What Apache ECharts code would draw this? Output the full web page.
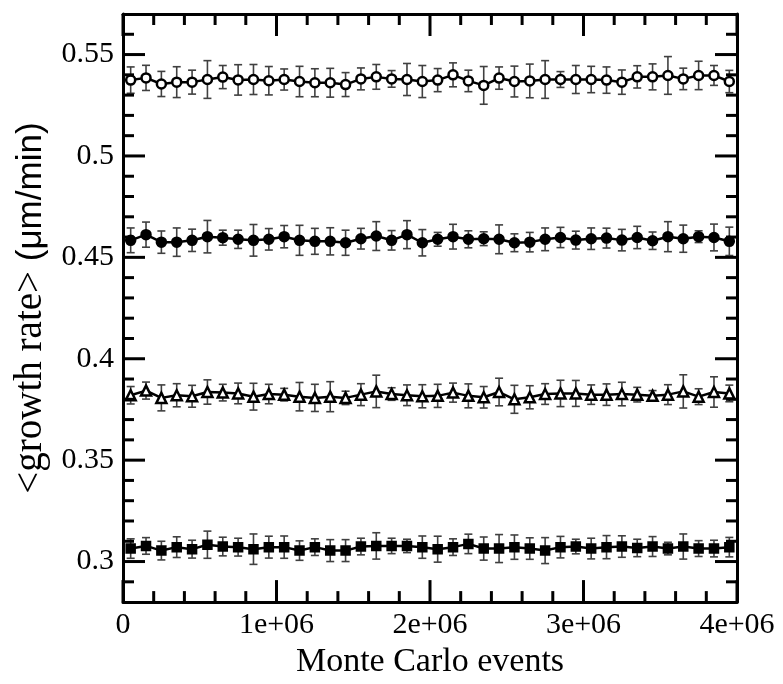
<!DOCTYPE html>
<html>
<head>
<meta charset="utf-8">
<script src="https://cdn.jsdelivr.net/npm/echarts@6/dist/echarts.min.js"></script>
<style>html,body{margin:0;padding:0;background:#fff;}#c{width:783px;height:684px;}</style>
</head>
<body>
<div id="c"></div>
<script>
var events = [50000,150000,250000,350000,450000,550000,650000,750000,850000,950000,
  1050000,1150000,1250000,1350000,1450000,1550000,1650000,1750000,1850000,1950000,
  2050000,2150000,2250000,2350000,2450000,2550000,2650000,2750000,2850000,2950000,
  3050000,3150000,3250000,3350000,3450000,3550000,3650000,3750000,3850000,3950000];

var openCircle = [0.5374,0.5385,0.5355,0.5364,0.5364,0.5377,0.5389,0.5375,0.5377,0.5371,
  0.5377,0.5367,0.5361,0.5361,0.5352,0.5380,0.5390,0.5380,0.5377,0.5367,
  0.5374,0.5400,0.5370,0.5348,0.5384,0.5367,0.5370,0.5377,0.5377,0.5377,
  0.5377,0.5374,0.5364,0.5390,0.5390,0.5397,0.5380,0.5397,0.5397,0.5367];
var openCircleErr = [0.0065,0.0062,0.0062,0.0076,0.0059,0.0093,0.0057,0.0075,0.0074,0.0070,
  0.0052,0.0075,0.0069,0.0071,0.0059,0.0054,0.0061,0.0041,0.0079,0.0079,
  0.0057,0.0059,0.0053,0.0093,0.0055,0.0076,0.0083,0.0093,0.0039,0.0069,
  0.0065,0.0065,0.0060,0.0055,0.0064,0.0093,0.0053,0.0070,0.0049,0.0055];

var filledCircle = [0.4584,0.4612,0.4575,0.4575,0.4584,0.4602,0.4597,0.4589,0.4584,0.4589,
  0.4602,0.4584,0.4579,0.4579,0.4572,0.4592,0.4605,0.4584,0.4612,0.4572,
  0.4589,0.4602,0.4589,0.4592,0.4589,0.4572,0.4575,0.4589,0.4598,0.4585,
  0.4592,0.4595,0.4585,0.4598,0.4582,0.4602,0.4592,0.4602,0.4598,0.4579];
var filledCircleErr = [0.0061,0.0062,0.0055,0.0070,0.0055,0.0080,0.0037,0.0045,0.0078,0.0053,
  0.0055,0.0074,0.0064,0.0067,0.0062,0.0051,0.0071,0.0048,0.0069,0.0065,
  0.0034,0.0061,0.0042,0.0034,0.0071,0.0044,0.0048,0.0056,0.0050,0.0044,
  0.0053,0.0049,0.0053,0.0055,0.0043,0.0074,0.0067,0.0029,0.0066,0.0070];

var triangle = [0.3820,0.3843,0.3807,0.3820,0.3815,0.3836,0.3833,0.3829,0.3813,0.3826,
  0.3823,0.3813,0.3807,0.3813,0.3807,0.3823,0.3839,0.3826,0.3820,0.3815,
  0.3817,0.3833,0.3817,0.3810,0.3836,0.3800,0.3810,0.3826,0.3829,0.3829,
  0.3823,0.3823,0.3826,0.3823,0.3817,0.3823,0.3839,0.3813,0.3836,0.3829];
var triangleErr = [0.0043,0.0042,0.0064,0.0057,0.0054,0.0060,0.0041,0.0051,0.0066,0.0048,
  0.0031,0.0070,0.0067,0.0074,0.0033,0.0054,0.0080,0.0031,0.0051,0.0057,
  0.0057,0.0047,0.0059,0.0053,0.0068,0.0069,0.0057,0.0051,0.0065,0.0064,
  0.0048,0.0053,0.0058,0.0036,0.0026,0.0049,0.0082,0.0039,0.0075,0.0041];

var square = [0.3064,0.3077,0.3054,0.3071,0.3061,0.3083,0.3074,0.3071,0.3061,0.3071,
  0.3071,0.3054,0.3071,0.3054,0.3054,0.3074,0.3077,0.3077,0.3077,0.3071,
  0.3061,0.3071,0.3087,0.3064,0.3064,0.3071,0.3064,0.3054,0.3071,0.3074,
  0.3064,0.3071,0.3074,0.3067,0.3074,0.3064,0.3074,0.3064,0.3064,0.3071];
var squareErr = [0.0048,0.0041,0.0046,0.0051,0.0044,0.0067,0.0046,0.0044,0.0075,0.0054,
  0.0055,0.0048,0.0041,0.0054,0.0054,0.0041,0.0065,0.0038,0.0033,0.0055,
  0.0064,0.0041,0.0048,0.0057,0.0069,0.0060,0.0053,0.0064,0.0053,0.0036,
  0.0051,0.0057,0.0053,0.0043,0.0049,0.0031,0.0062,0.0039,0.0041,0.0048];

var xTickValues = [0, 1000000, 2000000, 3000000, 4000000];
var xTickLabels = ['0', '1e+06', '2e+06', '3e+06', '4e+06'];
var xMinorTickValues = [200000,400000,600000,800000,1200000,1400000,1600000,1800000,
  2200000,2400000,2600000,2800000,3200000,3400000,3600000,3800000];
var yTickValues = [0.30, 0.35, 0.40, 0.45, 0.50, 0.55];
var yTickLabels = ['0.3', '0.35', '0.4', '0.45', '0.5', '0.55'];
var yMinorTickValues = [0.29,0.31,0.32,0.33,0.34,0.36,0.37,0.38,0.39,0.41,0.42,0.43,0.44,
  0.46,0.47,0.48,0.49,0.51,0.52,0.53,0.54,0.56];

var xTitle = 'Monte Carlo events';
var yTitleA = '<growth rate> ';
var yTitleB = '(\u03bcm/min)';

var serif = 'Liberation Serif';
var axisLineStyle = {color: '#000', width: 3};
var xMin = 0, xMax = 4000000, yMin = 0.28, yMax = 0.57;

function errSeries(vals, errs) {
  return {
    type: 'custom', xAxisIndex: 0, yAxisIndex: 0, z: 1, silent: true,
    data: vals.map(function (v, i) { return [events[i], v - errs[i], v + errs[i]]; }),
    renderItem: function (params, api) {
      var x = api.value(0);
      var lo = api.coord([x, api.value(1)]);
      var hi = api.coord([x, api.value(2)]);
      var hw = 4;
      var st = {stroke: '#404040', lineWidth: 1.6};
      return {
        type: 'group',
        children: [
          {type: 'line', shape: {x1: lo[0], y1: lo[1], x2: hi[0], y2: hi[1]}, style: st},
          {type: 'line', shape: {x1: lo[0] - hw, y1: lo[1], x2: lo[0] + hw, y2: lo[1]}, style: st},
          {type: 'line', shape: {x1: hi[0] - hw, y1: hi[1], x2: hi[0] + hw, y2: hi[1]}, style: st}
        ]
      };
    }
  };
}
function lineSeries(vals, symbol, size, fill) {
  return {
    type: 'line', xAxisIndex: 0, yAxisIndex: 0, z: 3,
    data: vals.map(function (v, i) { return [events[i], v]; }),
    symbol: symbol, symbolSize: size, showAllSymbol: true,
    lineStyle: {color: '#000', width: 2.5},
    itemStyle: {color: fill, borderColor: '#000', borderWidth: 2.5},
    animation: false
  };
}
// tick marks drawn through the axes' own scales (api.coord)
function xTickSeries(values, len) {
  return {
    type: 'custom', xAxisIndex: 0, yAxisIndex: 0, z: 6, silent: true, clip: false,
    data: values.map(function (v) { return [v, yMin]; }),
    renderItem: function (params, api) {
      var v = api.value(0);
      var b = api.coord([v, yMin]);
      var t = api.coord([v, yMax]);
      var st = {stroke: '#000', lineWidth: 3, lineCap: 'butt'};
      return {type: 'group', children: [
        {type: 'line', shape: {x1: b[0], y1: b[1], x2: b[0], y2: b[1] - len}, style: st},
        {type: 'line', shape: {x1: t[0], y1: t[1], x2: t[0], y2: t[1] + len}, style: st}
      ]};
    }
  };
}
function yTickSeries(values, len) {
  return {
    type: 'custom', xAxisIndex: 0, yAxisIndex: 0, z: 6, silent: true, clip: false,
    data: values.map(function (v) { return [xMin, v]; }),
    renderItem: function (params, api) {
      var v = api.value(1);
      var l = api.coord([xMin, v]);
      var r = api.coord([xMax, v]);
      var st = {stroke: '#000', lineWidth: 3, lineCap: 'butt'};
      return {type: 'group', children: [
        {type: 'line', shape: {x1: l[0], y1: l[1], x2: l[0] + len, y2: l[1]}, style: st},
        {type: 'line', shape: {x1: r[0], y1: r[1], x2: r[0] - len, y2: r[1]}, style: st}
      ]};
    }
  };
}

var option = {
  animation: false,
  grid: {left: 123, right: 46, top: 14, bottom: 81},
  xAxis: [
    {
      type: 'value', position: 'bottom', min: xMin, max: xMax, interval: 1000000,
      axisLine: {show: true, lineStyle: axisLineStyle},
      axisTick: {show: false}, minorTick: {show: false}, splitLine: {show: false},
      axisLabel: {show: true, margin: 8, color: '#000', fontFamily: serif, fontSize: 30,
        formatter: function (v) {
          for (var k = 0; k < xTickValues.length; k++) { if (xTickValues[k] === v) return xTickLabels[k]; }
          return '';
        }},
      name: xTitle, nameLocation: 'middle', nameGap: 37,
      nameTextStyle: {color: '#000', fontFamily: serif, fontSize: 34}
    },
    {
      type: 'value', position: 'top', min: xMin, max: xMax, interval: 1000000,
      axisLine: {show: true, lineStyle: axisLineStyle},
      axisTick: {show: false}, minorTick: {show: false}, splitLine: {show: false},
      axisLabel: {show: false}
    }
  ],
  yAxis: [
    {
      type: 'value', position: 'left', min: yMin, max: yMax,
      axisLine: {show: true, lineStyle: axisLineStyle},
      axisTick: {show: false}, splitLine: {show: false},
      axisLabel: {show: true, margin: 9, color: '#000', fontFamily: serif, fontSize: 30,
        customValues: yTickValues,
        formatter: function (v) {
          for (var k = 0; k < yTickValues.length; k++) { if (Math.abs(yTickValues[k] - v) < 1e-9) return yTickLabels[k]; }
          return '';
        }},
      name: '{a|' + yTitleA + '}{b|' + yTitleB + '}',
      nameLocation: 'middle', nameGap: 71, nameRotate: 90,
      nameTextStyle: {color: '#000', rich: {
        a: {fontFamily: serif, fontSize: 39, color: '#000'},
        b: {fontFamily: 'Liberation Sans', fontSize: 35, color: '#000'}
      }}
    },
    {
      type: 'value', position: 'left', min: yMin, max: yMax,
      axisLine: {show: false}, axisTick: {show: false}, splitLine: {show: false},
      axisLabel: {show: false, customValues: yTickValues}
    },
    {
      type: 'value', position: 'right', min: yMin, max: yMax,
      axisLine: {show: true, lineStyle: axisLineStyle},
      axisTick: {show: false}, splitLine: {show: false},
      axisLabel: {show: false, customValues: yTickValues}
    },
    {
      type: 'value', position: 'right', min: yMin, max: yMax,
      axisLine: {show: false}, axisTick: {show: false}, splitLine: {show: false},
      axisLabel: {show: false, customValues: yTickValues}
    }
  ],
  series: [
    errSeries(openCircle, openCircleErr),
    errSeries(filledCircle, filledCircleErr),
    errSeries(triangle, triangleErr),
    errSeries(square, squareErr),
    lineSeries(openCircle, 'circle', 9, '#fff'),
    lineSeries(filledCircle, 'circle', 9, '#000'),
    lineSeries(triangle, 'triangle', 10, '#fff'),
    lineSeries(square, 'rect', 8, '#000'),
    xTickSeries(xTickValues, 22),
    xTickSeries(xMinorTickValues, 11),
    yTickSeries(yTickValues, 22),
    yTickSeries(yMinorTickValues, 11)
  ]
};
echarts.init(document.getElementById('c')).setOption(option);
</script>
</body>
</html>
